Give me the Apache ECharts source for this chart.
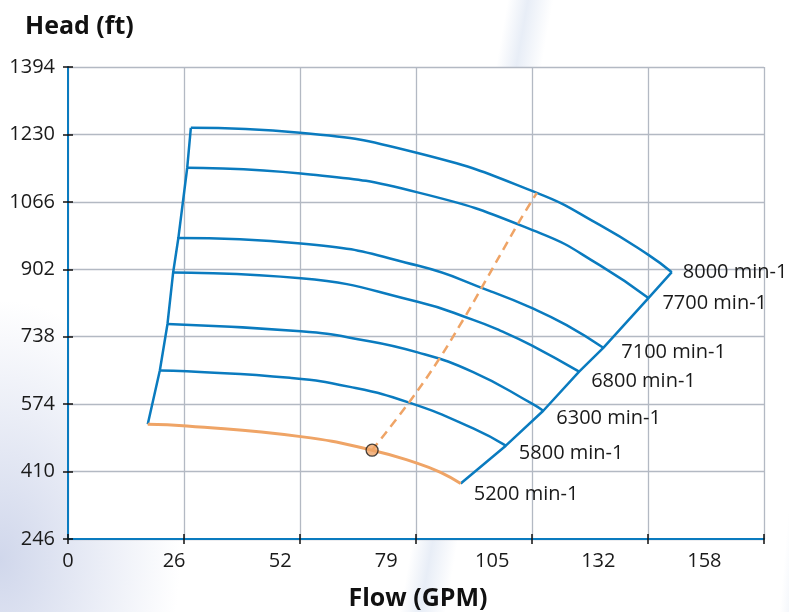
<!DOCTYPE html>
<html>
<head>
<meta charset="utf-8">
<script src="https://cdn.jsdelivr.net/npm/echarts@6/dist/echarts.min.js"></script>
<style>
  html, body { margin: 0; padding: 0; }
  body {
    width: 789px; height: 612px; overflow: hidden;
    background:
      radial-gradient(ellipse 180px 260px at 0px 560px, rgba(200,208,232,0.85), rgba(255,255,255,0) 100%),
      linear-gradient(100deg, rgba(255,255,255,0) 500px, rgba(222,230,243,0.7) 520px, rgba(255,255,255,0) 545px),
      linear-gradient(95deg, rgba(255,255,255,0) 830px, rgba(222,230,243,0.5) 845px, rgba(255,255,255,0) 860px),
      #ffffff;
  }
  #chart { width: 789px; height: 612px; }
</style>
</head>
<body>
<div id="chart"></div>
<script>
// ---- data ----
var speedNames = ['8000 min-1', '7700 min-1', '7100 min-1', '6800 min-1', '6300 min-1', '5800 min-1', '5200 min-1'];

var flow8000 = [30.5, 57.6, 86.8, 116.4, 132.0, 144.1, 149.9];
var head8000 = [1246, 1234, 1185, 1088, 1010, 937, 895];

var flow7700 = [29.6, 57.8, 86.8, 117.2, 132.0, 144.1];
var head7700 = [1149, 1135, 1089, 990, 912, 832];

var flow7100 = [27.4, 57.8, 86.8, 104.8, 115.1, 123.8, 132.9];
var head7100 = [978, 965, 911, 849, 808, 766, 711];

var flow6800 = [26.1, 57.8, 86.8, 100.6, 107.3, 115.1, 126.9];
var head6800 = [894, 880, 823, 779, 753, 717, 653];

var flow6300 = [24.7, 57.8, 72.0, 86.8, 100.6, 115.1, 118.0];
var head6300 = [769, 751, 732, 700, 652, 576, 558];

var flow5800 = [22.8, 29.5, 55.1, 70.0, 84.9, 100.6, 108.7];
var head5800 = [656, 654, 638, 616, 577, 515, 473];

var flow5200 = [19.8, 29.5, 57.8, 75.5, 86.8, 92.5, 97.5];
var head5200 = [525, 521, 495, 462, 430, 408, 381];

// affinity (dashed) line from the duty point up to the 8000 curve
var flowAffinity = [75.5, 84.5, 91.9, 98.1, 100.6, 111.8, 116.4];
var headAffinity = [462, 576, 680, 779, 821, 1014, 1088];

// duty point
var dutyFlow = [75.5];
var dutyHead = [462];

// tick labels
var xTickLabels = ['0', '26', '52', '79', '105', '132', '158'];
var yTickLabels = ['246', '410', '574', '738', '902', '1066', '1230', '1394'];

// ---- styling (kept apart from data) ----
var BLUE = '#0a7bbf';
var ORANGE = '#efa466';
var labelOffsets = [[3, 0], [6, 5], [10, 4], [4, 10], [5, 8], [5, 8], [5, 11]];
var FONT = 'Open Sans';

function zip(xs, ys) { return xs.map(function (x, i) { return [x, ys[i]]; }); }

var flows = [flow8000, flow7700, flow7100, flow6800, flow6300, flow5800, flow5200];
var heads = [head8000, head7700, head7100, head6800, head6300, head5800, head5200];

var leftBoundary = flows.map(function (f, i) { return [f[0], heads[i][0]]; });
var rightBoundary = flows.map(function (f, i) { return [f[f.length - 1], heads[i][heads[i].length - 1]]; });

var series = [];
series.push({
  type: 'line', name: 'left', data: leftBoundary, showSymbol: false, silent: true,
  lineStyle: { color: BLUE, width: 2.5 }, z: 2
});
series.push({
  type: 'line', name: 'right', data: rightBoundary, showSymbol: false, silent: true,
  lineStyle: { color: BLUE, width: 2.5 }, z: 2
});
speedNames.forEach(function (name, i) {
  var isLow = (i === speedNames.length - 1);
  series.push({
    type: 'line', name: name, data: zip(flows[i], heads[i]),
    smooth: 0.5, showSymbol: false, silent: true,
    lineStyle: { color: isLow ? ORANGE : BLUE, width: isLow ? 3 : 2.5 },
    z: isLow ? 4 : 3,
    endLabel: {
      show: true, formatter: name, offset: labelOffsets[i],
      fontFamily: FONT, fontSize: 20, color: '#1a1a1a'
    }
  });
});
series.push({
  type: 'line', name: 'affinity', data: zip(flowAffinity, headAffinity),
  smooth: 0.4, showSymbol: false, silent: true,
  lineStyle: { color: ORANGE, width: 2.5, type: [9, 6] }, z: 5
});
series.push({
  type: 'scatter', name: 'duty', data: zip(dutyFlow, dutyHead),
  symbolSize: 12, silent: true,
  itemStyle: { color: ORANGE, borderColor: '#1a1a1a', borderWidth: 1.3 }, z: 6
});

var chart = echarts.init(document.getElementById('chart'), null, { renderer: 'canvas' });
var XMAX = 172.8;
chart.setOption({
  animation: false,
  backgroundColor: 'transparent',
  grid: { left: 68, right: 25, top: 67, bottom: 73, show: true, backgroundColor: '#ffffff', borderWidth: 0 },
  xAxis: [
    {
      type: 'value', min: 0, max: XMAX, interval: 28.8,
      axisLine: { show: true, onZero: false, lineStyle: { color: BLUE, width: 2 } },
      axisTick: { show: true, length: 5, lineStyle: { color: '#111', width: 1.5 } },
      axisLabel: { show: false },
      splitLine: { show: true, lineStyle: { color: '#b3b9c3', width: 1.3 } }
    },
    {
      type: 'value', min: 0, max: XMAX, interval: 158 / 6, position: 'bottom',
      axisLine: { show: false }, axisTick: { show: false }, splitLine: { show: false },
      axisLabel: {
        show: true, margin: 12, fontFamily: FONT, fontSize: 20, color: '#1a1a1a',
        showMaxLabel: false,
        formatter: function (v, idx) { return idx < xTickLabels.length ? xTickLabels[idx] : ''; }
      }
    },
    {
      type: 'value', min: 0, max: XMAX, interval: 28.8, position: 'bottom',
      axisLine: { show: false },
      axisTick: { show: true, inside: true, length: 5, lineStyle: { color: '#111', width: 1.5 } },
      axisLabel: { show: false }, splitLine: { show: false }
    }
  ],
  yAxis: [
    {
      type: 'value', min: 246, max: 1394, interval: 164,
      axisLine: { show: true, onZero: false, lineStyle: { color: BLUE, width: 2 } },
      axisTick: { show: true, length: 5, lineStyle: { color: '#111', width: 1.5 } },
      axisLabel: {
        show: true, margin: 13, fontFamily: FONT, fontSize: 20, color: '#1a1a1a',
        formatter: function (v, idx) { return yTickLabels[idx] !== undefined ? yTickLabels[idx] : ''; }
      },
      splitLine: { show: true, lineStyle: { color: '#b3b9c3', width: 1.3 } }
    },
    {
      type: 'value', min: 246, max: 1394, interval: 164, position: 'left',
      axisLine: { show: false },
      axisTick: { show: true, inside: true, length: 5, lineStyle: { color: '#111', width: 1.5 } },
      axisLabel: { show: false }, splitLine: { show: false }
    }
  ],
  graphic: [
    { type: 'text', x: 25, y: 27, style: { text: 'Head (ft)', font: 'bold 25px "Open Sans"', fill: '#111', textVerticalAlign: 'middle' } },
    { type: 'text', x: 418, y: 599, style: { text: 'Flow (GPM)', font: 'bold 25px "Open Sans"', fill: '#111', textAlign: 'center', textVerticalAlign: 'middle' } }
  ],
  series: series
});
</script>
</body>
</html>
